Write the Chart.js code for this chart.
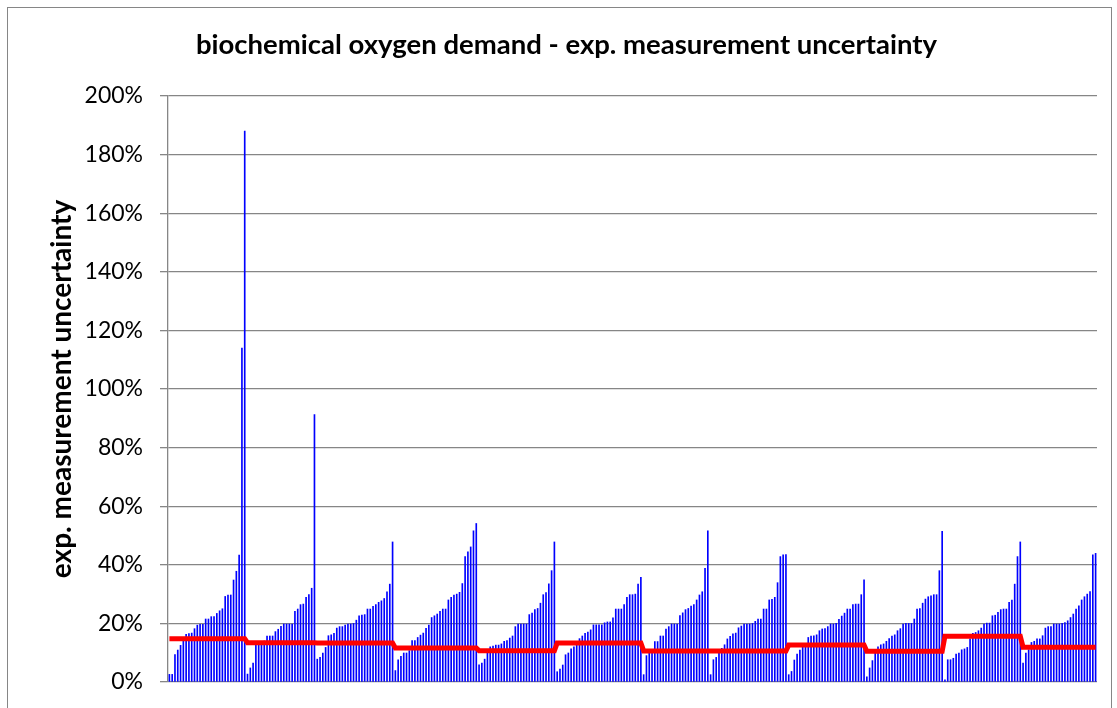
<!DOCTYPE html>
<html>
<head>
<meta charset="utf-8">
<script src="https://cdn.jsdelivr.net/npm/chart.js@4/dist/chart.umd.min.js"></script>
<style>
  body { margin: 0; background: #fff; }
  #wrap { width: 1117px; height: 708px; position: relative; }
</style>
</head>
<body>
<div id="wrap"><canvas id="chart" width="1117" height="708"></canvas></div>
<script>
// expanded measurement uncertainty (%) per lab, sorted within each sample
const sample1 = [2.6, 2.6, 9.4, 10.9, 12.5, 14, 16.3, 16.5, 16.7, 18.2, 19.4, 19.7, 19.7, 21.5, 21.5, 22.3, 22.3, 23.4, 24.3, 25, 29.2, 29.7, 29.7, 34.8, 37.8, 43.3, 114, 188];
const sample2 = [2.7, 4.8, 6.5, 12.8, 13.2, 13.6, 14, 15.7, 15.7, 15.7, 17.2, 18, 19, 19.8, 19.8, 19.8, 19.8, 24.1, 24.9, 26.4, 26.6, 28.9, 29.8, 32, 91.3];
const sample3 = [7.8, 8.4, 9.9, 11.8, 15.8, 16.1, 16.6, 18.4, 18.9, 18.9, 19.4, 19.8, 19.8, 20, 21.1, 22.6, 22.8, 23, 24.9, 24.9, 25.8, 26.4, 27.2, 27.7, 28.5, 30.8, 33.4, 47.8];
const sample4 = [3.9, 7.6, 8.8, 9.9, 9.9, 10.7, 14.1, 14.1, 15.2, 16, 16.7, 18.3, 19.4, 22, 22.6, 23.2, 24.1, 24.9, 24.9, 28, 28.9, 29.7, 30, 30.6, 33.6, 42.8, 44.4, 46.1, 51.6, 54.1];
const sample5 = [5.9, 6.5, 7.8, 10.5, 12, 12.3, 12.6, 12.6, 13, 13.9, 14.1, 15, 15.7, 18.9, 19.8, 19.8, 19.8, 19.8, 23, 23.5, 24.7, 25.1, 26.9, 29.8, 30.5, 33.5, 38, 47.8];
const sample6 = [3.5, 4.4, 5.8, 9.3, 9.9, 11.3, 12, 12.7, 14.8, 15.7, 16.6, 17, 17.8, 19.5, 19.5, 19.5, 19.5, 20.2, 20.5, 20.5, 21.9, 24.9, 24.9, 24.9, 26.4, 28.9, 29.8, 29.8, 30, 33.4, 35.7];
const sample7 = [2.5, 9, 9.8, 11, 13.8, 13.8, 15.7, 15.7, 18.1, 18.9, 19.8, 19.8, 19.8, 22.7, 23.6, 24.7, 25.1, 25.9, 26.4, 28, 29.7, 30.8, 38.8, 51.6];
const sample8 = [2.5, 7.6, 8.4, 10, 11.5, 12.7, 14.7, 15.6, 16.4, 16.7, 18.5, 19.1, 19.8, 19.8, 19.8, 20, 20.7, 21.5, 21.5, 24.9, 24.9, 28, 28.2, 28.9, 33.9, 42.8, 43.4, 43.5];
const sample9 = [2.5, 3.6, 7.5, 9.5, 10.9, 12, 12.7, 15.2, 15.7, 15.8, 16.1, 17.5, 18.1, 18.2, 18.9, 19.8, 19.8, 20, 21.4, 22.5, 23.5, 24.9, 24.9, 26.4, 26.6, 26.6, 29.8, 34.9];
const sample10 = [1.8, 4.8, 7.3, 10.1, 12, 12.7, 13, 13.9, 14.8, 15.7, 16.1, 17.5, 18.2, 19.8, 20, 20, 20, 21.5, 24.9, 25.1, 26.9, 28.3, 29.1, 29.4, 29.8, 29.8, 38, 51.4];
const sample11 = [0.7, 7.6, 7.6, 8.1, 9.5, 9.9, 11, 11.3, 11.8, 14.7, 16.6, 16.9, 17.5, 18.4, 19.8, 20.1, 20.1, 22.6, 22.8, 23.8, 24.7, 24.9, 24.9, 27.2, 28, 33.4, 42.8, 47.8];
const sample12 = [6.5, 9.9, 11, 13.5, 13.9, 14.7, 14.7, 15.8, 18.4, 18.9, 18.9, 19.8, 19.8, 19.8, 20, 20.3, 20.9, 22, 23.2, 24.9, 26, 28, 29.1, 30, 30.9, 43.4, 43.9];

// red reference level for each sample (%)
const sampleLevel = [14.8, 13.4, 13.3, 11.6, 10.7, 13.3, 10.6, 10.6, 12.6, 10.5, 15.6, 11.9];

const yTicks = { min: 0, max: 200, step: 20 };

const samples = [sample1, sample2, sample3, sample4, sample5, sample6,
                 sample7, sample8, sample9, sample10, sample11, sample12];

const barValues = [];
const levelValues = [];
samples.forEach((s, i) => {
  s.forEach(v => { barValues.push(v); levelValues.push(sampleLevel[i]); });
});
const labels = barValues.map((_, i) => String(i + 1));

// outer chart frame like the spreadsheet chart object
const framePlugin = {
  id: 'frame',
  beforeDraw(chart) {
    const ctx = chart.ctx;
    ctx.save();
    ctx.fillStyle = '#fff';
    ctx.fillRect(0, 0, chart.width, chart.height);
    ctx.strokeStyle = '#868686';
    ctx.lineWidth = 1;
    ctx.strokeRect(7.5, 7.5, 1104, 740);
    ctx.restore();
  }
};

new Chart(document.getElementById('chart'), {
  data: {
    labels,
    datasets: [
      {
        type: 'line',
        data: levelValues,
        borderColor: '#ff0000',
        borderWidth: 5,
        pointRadius: 0,
        tension: 0,
        order: 0
      },
      {
        type: 'bar',
        data: barValues,
        backgroundColor: '#0000ff',
        barThickness: 1,
        order: 1
      }
    ]
  },
  options: {
    responsive: false,
    animation: false,
    devicePixelRatio: 1,
    // left padding 36 keeps the title centred where the spreadsheet put it
    layout: { padding: { top: 0, left: 36, right: 20, bottom: 26 } },
    plugins: {
      legend: { display: false },
      tooltip: { enabled: false },
      title: {
        display: true,
        text: 'biochemical oxygen demand - exp. measurement uncertainty',
        color: '#000',
        font: { family: 'Lato', size: 27.5, weight: 'bold' },
        padding: { top: 28.5, bottom: 34.5 }
      }
    },
    scales: {
      x: { display: false },
      y: {
        min: yTicks.min,
        max: yTicks.max,
        afterFit(scale) {
          scale.width = 132;
          // the label gap (ticks.padding) would otherwise also push the plot bottom up
          scale.paddingBottom = 0;
        },
        ticks: {
          stepSize: yTicks.step,
          color: '#000',
          padding: 17,
          font: { family: 'Lato', size: 23 },
          callback: v => v + '%'
        },
        grid: { color: '#868686', lineWidth: 1.3, tickLength: 8 },
        border: { color: '#868686', width: 1.3 },
        title: {
          display: true,
          text: 'exp. measurement uncertainty',
          color: '#000',
          font: { family: 'Lato', size: 28, weight: 'bold' },
          padding: { top: 9, bottom: 0 }
        }
      }
    }
  },
  plugins: [framePlugin]
});
</script>
</body>
</html>
